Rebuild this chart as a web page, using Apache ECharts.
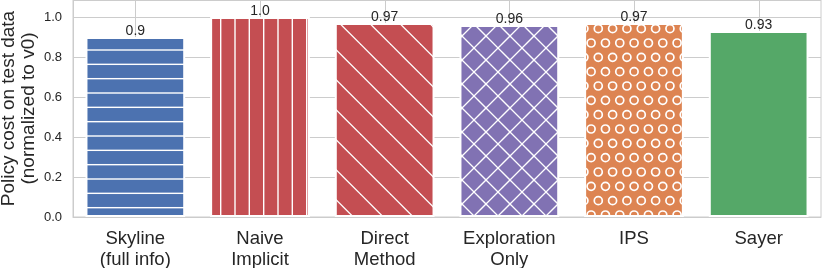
<!DOCTYPE html>
<html>
<head>
<meta charset="utf-8">
<script src="https://cdn.jsdelivr.net/npm/echarts@6/dist/echarts.min.js"></script>
<style>
html,body{margin:0;padding:0;background:#fff;}
#chart{width:822px;height:268px;}
</style>
</head>
<body>
<div id="chart"></div>
<script>
const categories = ['Skyline\n(full info)', 'Naive\nImplicit', 'Direct\nMethod', 'Exploration\nOnly', 'IPS', 'Sayer'];
const values = [0.90, 1.00, 0.97, 0.96, 0.97, 0.93];
const valueLabels = ['0.9', '1.0', '0.97', '0.96', '0.97', '0.93'];
const yTicks = [0.0, 0.2, 0.4, 0.6, 0.8, 1.0];
const colors = ['#4C72B0', '#C44E52', '#C44E52', '#8172B3', '#DD8452', '#55A868'];
const hatches = ['-', '|', '\\', 'x', 'o', ''];

function makeCanvas(w, h, base) {
  const c = document.createElement('canvas');
  c.width = w; c.height = h;
  const ctx = c.getContext('2d');
  ctx.fillStyle = base;
  ctx.fillRect(0, 0, w, h);
  ctx.strokeStyle = '#ffffff';
  ctx.fillStyle = '#ffffff';
  return [c, ctx];
}
function hatchPattern(kind, base) {
  if (kind === '-') {
    const [c, ctx] = makeCanvas(43, 43, base);
    [7, 21.33, 35.67].forEach(y => ctx.fillRect(0, y - 0.7, 43, 1.4));
    return c;
  }
  if (kind === '|') {
    const [c, ctx] = makeCanvas(43, 43, base);
    [5.7, 20, 34.3].forEach(x => ctx.fillRect(x - 0.7, 0, 1.4, 43));
    return c;
  }
  if (kind === '\\') {
    const P = 30, off = 13.7;
    const [c, ctx] = makeCanvas(P, P, base);
    ctx.lineWidth = 1.3;
    for (const k of [-1, 0, 1]) {
      ctx.beginPath();
      ctx.moveTo(-2, -2 + off + k * P);
      ctx.lineTo(P + 2, P + 2 + off + k * P);
      ctx.stroke();
    }
    return c;
  }
  if (kind === 'x') {
    const P = 24, off = 6;
    const [c, ctx] = makeCanvas(P, P, base);
    ctx.lineWidth = 1.3;
    for (const k of [-1, 0, 1]) {
      ctx.beginPath();
      ctx.moveTo(-2, -2 + off + k * P);
      ctx.lineTo(P + 2, P + 2 + off + k * P);
      ctx.stroke();
      ctx.beginPath();
      ctx.moveTo(-2, P + 2 - off + k * P);
      ctx.lineTo(P + 2, -2 - off + k * P);
      ctx.stroke();
    }
    return c;
  }
  if (kind === 'o') {
    const S = 43 / 3;
    const [c, ctx] = makeCanvas(43, 86, base);
    ctx.lineWidth = 1.7;
    for (let r = -1; r <= 6; r++) {
      const y = r * S;
      const xo = (r % 2 === 0) ? 10.6 : 10.6 - S / 2;
      for (let q = -1; q <= 3; q++) {
        ctx.beginPath();
        ctx.arc(xo + q * S, y, 4, 0, Math.PI * 2);
        ctx.stroke();
      }
    }
    return c;
  }
  return null;
}

const barData = values.map((v, i) => {
  const pat = hatchPattern(hatches[i], colors[i]);
  return {
    value: v,
    itemStyle: { color: pat ? { image: pat, repeat: 'repeat' } : colors[i] }
  };
});

const font = "'Liberation Sans', Arial, Helvetica, sans-serif";
const chart = echarts.init(document.getElementById('chart'), null, { renderer: 'canvas' });
chart.setOption({
  animation: false,
  backgroundColor: '#ffffff',
  grid: { left: 73, right: 1, top: 0, bottom: 51, show: true, borderColor: '#cccccc', borderWidth: 1, containLabel: false, outerBoundsMode: 'none' },
  xAxis: {
    type: 'category',
    data: categories,
    axisLine: { show: true, lineStyle: { color: '#cccccc', width: 1 } },
    axisTick: { show: false },
    splitLine: { show: false },
    axisLabel: { color: '#262626', fontSize: 18.5, fontFamily: font, lineHeight: 21, margin: 11, interval: 0 }
  },
  yAxis: {
    type: 'value',
    min: 0,
    max: 1.085,
    interval: 0.2,
    axisLine: { show: true, lineStyle: { color: '#cccccc' } },
    axisTick: { show: false },
    splitLine: { show: true, lineStyle: { color: '#cccccc', width: 1 } },
    axisLabel: {
      color: '#262626', fontSize: 13, fontFamily: font, margin: 11,
      showMaxLabel: false,
      formatter: (v) => yTicks.some(t => Math.abs(t - v) < 1e-6) ? v.toFixed(1) : ''
    },
    name: 'Policy cost on test data\n(normalized to v0)',
    nameLocation: 'middle',
    nameRotate: 90,
    nameGap: 34,
    nameMoveOverlap: false,
    nameTextStyle: { color: '#262626', fontSize: 19, fontFamily: font, lineHeight: 20 }
  },
  series: [
    {
      type: 'custom',
      z: 1,
      silent: true,
      data: categories.map((c, i) => [i]),
      encode: { x: 0 },
      renderItem: (params, api) => {
        const p = api.coord([api.value(0), 0]);
        const cs = params.coordSys;
        const x = Math.round(p[0]) + 0.5;
        return {
          type: 'line',
          shape: { x1: x, y1: cs.y, x2: x, y2: cs.y + cs.height },
          style: { stroke: '#cccccc', lineWidth: 1 }
        };
      }
    },
    {
      type: 'bar',
      z: 3,
      data: barData,
      barWidth: '80%',
      itemStyle: { borderColor: '#ffffff', borderWidth: 2 },
      label: {
        show: true,
        position: 'top',
        distance: -1,
        color: '#262626',
        fontSize: 14,
        fontFamily: font,
        formatter: (p) => valueLabels[p.dataIndex]
      }
    }
  ]
});
</script>
</body>
</html>
